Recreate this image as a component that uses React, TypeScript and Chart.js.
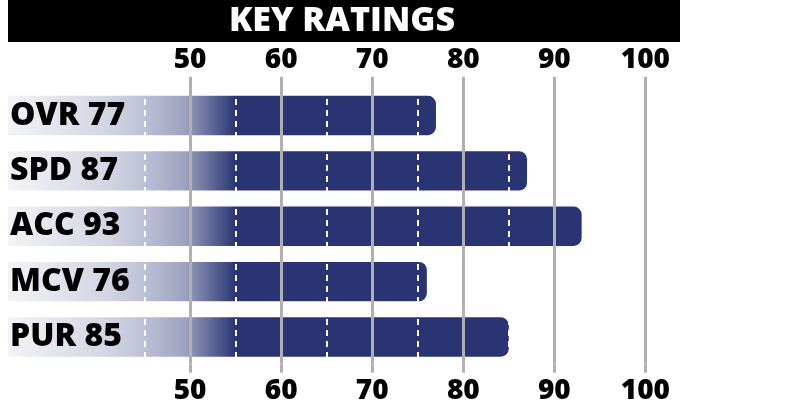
import React, { useEffect, useRef } from "react";
import { Chart, registerables } from "chart.js";

Chart.register(...registerables);

const title = "KEY RATINGS";
const categories = ["OVR", "SPD", "ACC", "MCV", "PUR"];
const ratings = [77, 87, 93, 76, 85];
const tickValues = [50, 60, 70, 80, 90, 100];
const dashValues = [45, 55, 65, 75, 85, 95];

const FONT = "'Open Sans', 'DejaVu Sans', sans-serif";
const NAVY = "#2a3473";
const GRID = "#afafb4";
const X_MIN = 30;
const X_MAX = 103.8;

const titleBarPlugin = {
  id: "titleBar",
  beforeDraw(chart: any) {
    const { ctx, chartArea } = chart;
    ctx.save();
    ctx.fillStyle = "#000";
    ctx.fillRect(chartArea.left, 0, chartArea.right - chartArea.left, 42);
    ctx.restore();
  },
};

function barFill(context: any) {
  const chart = context.chart;
  const { ctx, chartArea, scales } = chart;
  if (!chartArea || !scales.x) return NAVY;
  const x0 = scales.x.getPixelForValue(X_MIN);
  const x1 = scales.x.getPixelForValue(55);
  const g = ctx.createLinearGradient(x0, 0, x1, 0);
  g.addColorStop(0, "#f3f4f8");
  g.addColorStop(0.45, "#d1d4e2");
  g.addColorStop(0.6, "#bcc0d5");
  g.addColorStop(0.78, "#9ca1c0");
  g.addColorStop(0.83, "#8086ac");
  g.addColorStop(0.96, "#3f4981");
  g.addColorStop(1, NAVY);
  return g;
}

export default function App() {
  const ref = useRef<HTMLCanvasElement | null>(null);

  useEffect(() => {
    if (!ref.current) return;
    const labels = categories.map((c, i) => `${c} ${ratings[i]}`);
    const setTicks = (values: number[]) => (scale: any) => {
      scale.ticks = values.map((v) => ({ value: v }));
    };
    const chart = new Chart(ref.current, {
      type: "bar",
      data: {
        labels,
        datasets: [
          {
            data: ratings,
            backgroundColor: barFill,
            borderWidth: 0,
            borderRadius: 8,
            borderSkipped: "start",
            barPercentage: 0.71,
            categoryPercentage: 1,
            xAxisID: "x",
          },
        ],
      },
      plugins: [titleBarPlugin],
      options: {
        indexAxis: "y",
        animation: false,
        responsive: true,
        maintainAspectRatio: false,
        layout: { padding: { left: 4, right: 105, top: 0, bottom: 4.7 } },
        plugins: {
          legend: { display: false },
          tooltip: { enabled: false },
          title: {
            display: true,
            text: title,
            color: "#ffffff",
            padding: 0,
            font: { family: FONT, size: 34, weight: "800", lineHeight: 1.27 },
          },
        },
        scales: {
          x: {
            type: "linear",
            position: "top",
            min: X_MIN,
            max: X_MAX,
            afterBuildTicks: setTicks(tickValues),
            grid: {
              color: GRID,
              lineWidth: 3,
              drawTicks: true,
              tickLength: 11,
              z: 1,
            },
            border: { display: false },
            ticks: {
              color: "#000",
              padding: 0,
              font: { family: FONT, size: 28, weight: "800", lineHeight: 1.2 },
            },
          },
          xd: {
            type: "linear",
            position: "top",
            min: X_MIN,
            max: X_MAX,
            afterBuildTicks: setTicks(dashValues),
            grid: {
              color: "#ffffff",
              lineWidth: 2,
              drawTicks: false,
              tickLength: 0,
              z: 1,
            },
            border: { display: false, dash: [6, 5], dashOffset: 0 },
            ticks: { display: false },
          },
          x2: {
            type: "linear",
            position: "bottom",
            min: X_MIN,
            max: X_MAX,
            afterBuildTicks: setTicks(tickValues),
            grid: {
              color: GRID,
              lineWidth: 3,
              drawOnChartArea: false,
              drawTicks: true,
              tickLength: 8,
            },
            border: { display: false },
            ticks: {
              color: "#000",
              padding: 2,
              font: { family: FONT, size: 28, weight: "800", lineHeight: 1.2 },
            },
          },
          y: {
            type: "category",
            position: "left",
            grid: { display: false, drawTicks: false, tickLength: 0 },
            border: { display: false },
            ticks: {
              z: 1,
              mirror: true,
              padding: 2,
              color: "#000",
              font: { family: FONT, size: 32, weight: "800", lineHeight: 1.2 },
            },
          },
        },
      },
    });
    return () => chart.destroy();
  }, []);

  return (
    <div style={{ position: "absolute", left: 0, top: 0, width: 785, height: 415 }}>
      <canvas ref={ref} />
    </div>
  );
}
